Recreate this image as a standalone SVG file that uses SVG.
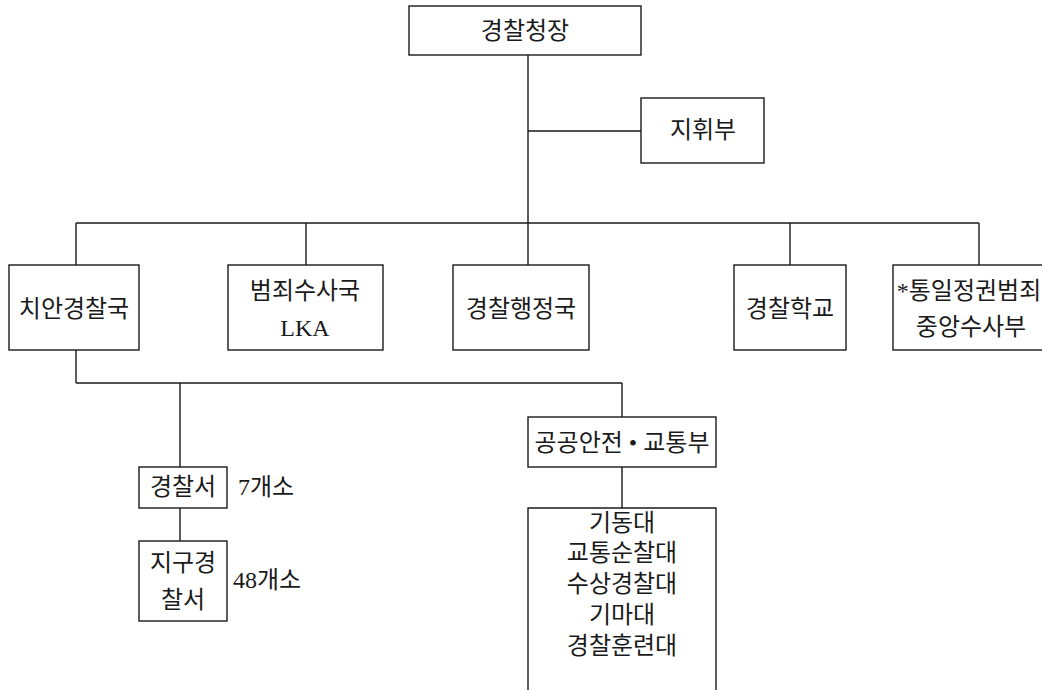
<svg xmlns="http://www.w3.org/2000/svg" width="1042" height="690" viewBox="0 0 1042 690">
<style>
.box{fill:#fff;stroke:#1a1a1a;stroke-width:1.4}
.ln{fill:none;stroke:#1a1a1a;stroke-width:1.4}
text{font-family:"Liberation Serif","Noto Sans CJK KR",serif;font-size:24px;fill:#1a1a1a;text-anchor:middle;dominant-baseline:central}
</style>
<rect width="1042" height="690" fill="#fff"/>
<g id="connectors">
<path class="ln" d="M528 55V223M528 131H641M76 223H979M76 223V265M306 223V265M528 223V265M790 223V265M979 223V265"/>
<path class="ln" d="M76 350V383M76 383H622M180 383V467M180 508V541M622 383V417M622 467V508"/>
</g>
<g id="n-chief"><rect class="box" x="409" y="6" width="232" height="49"/><text x="525" y="31">경찰청장</text></g>
<g id="n-command"><rect class="box" x="641" y="98" width="123" height="65"/><text x="703" y="130">지휘부</text></g>
<g id="n-public"><rect class="box" x="9" y="265" width="130" height="85"/><text x="74" y="309">치안경찰국</text></g>
<g id="n-crime"><rect class="box" x="228" y="265" width="155" height="85"/><text x="305" y="291">범죄수사국</text><text x="305" y="328">LKA</text></g>
<g id="n-admin"><rect class="box" x="453" y="265" width="136" height="85"/><text x="521" y="309">경찰행정국</text></g>
<g id="n-school"><rect class="box" x="734" y="265" width="112" height="85"/><text x="790" y="309">경찰학교</text></g>
<g id="n-unity"><rect class="box" x="893" y="265" width="160" height="85"/><text x="969" y="291">*통일정권범죄</text><text x="971" y="327">중앙수사부</text></g>
<g id="n-station"><rect class="box" x="139" y="467" width="88" height="41"/><text x="183" y="487">경찰서</text><text x="238" y="487" style="text-anchor:start">7개소</text></g>
<g id="n-district"><rect class="box" x="139" y="541" width="88" height="80"/><text x="183" y="563">지구경</text><text x="183" y="600">찰서</text><text x="233" y="580" style="text-anchor:start">48개소</text></g>
<g id="n-safety"><rect class="box" x="528" y="417" width="188" height="50"/><text x="622" y="443">공공안전 • 교통부</text></g>
<g id="n-units"><path class="box" d="M528 700V508H716V700"/>
<text x="622" y="523">기동대</text><text x="622" y="553">교통순찰대</text><text x="622" y="584">수상경찰대</text><text x="622" y="615">기마대</text><text x="622" y="646">경찰훈련대</text></g>
</svg>
